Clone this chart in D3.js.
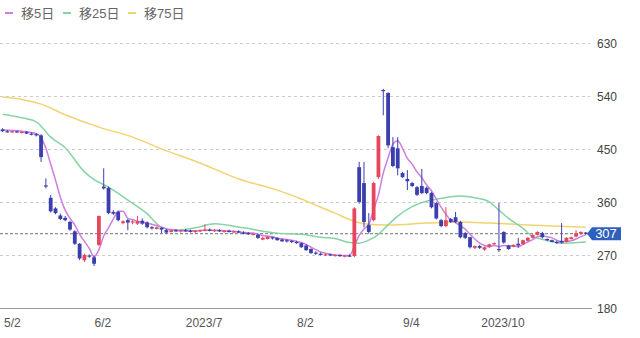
<!DOCTYPE html>
<html>
<head>
<meta charset="utf-8">
<script src="https://cdn.jsdelivr.net/npm/d3@7"></script>
<style>
  body { margin: 0; background: #fff; }
  svg { display: block; font-family: "Liberation Sans", Arial, "Noto Sans CJK JP", sans-serif; }
</style>
</head>
<body>
<div id="chart"></div>
<script>
// daily candles, [open, high, low, close], 2023/5/2 .. late Oct
const candles = [
  [484,486,480,481],[481,483,479,480],[480,482,478,481],[481,482,478,479],
  [479,481,477,480],[480,481,476,477],[477,479,474,475],[476,478,472,474],
  [474,476,429,437],[389,401,384,387],[368,373,343,345],[350,352,340,342],
  [338,341,330,332],[334,337,328,330],[327,329,312,314],[311,313,288,290],
  [290,291,262,265],[262,273,259,271],[270,272,266,268],[267,270,252,256],
  [288,338,286,337],[387,418,382,384],[385,387,340,342],[344,347,339,341],
  [344,346,328,330],[325,330,323,328],[330,332,313,326],[326,330,323,328],
  [324,337,322,328],[329,333,322,324],[326,328,316,318],[318,320,314,316],
  [315,319,314,318],[317,318,308,314],[313,315,307,309],[310,314,309,313],
  [313,315,310,311],[311,314,309,313],[313,315,310,312],[312,314,309,310],
  [310,313,308,312],[312,314,310,313],[313,323,311,314],[314,316,311,312],
  [312,315,310,313],[313,315,310,311],[311,313,309,312],[312,314,309,310],
  [310,312,308,311],[311,313,308,309],[309,311,306,308],[308,310,305,306],
  [306,309,304,307],[305,307,298,300],[297,302,296,300],[298,303,297,302],
  [301,302,297,299],[300,301,295,296],[297,299,293,294],[296,298,292,295],
  [295,296,291,293],[293,295,290,292],[291,292,283,284],[287,289,278,279],
  [281,282,273,274],[275,277,271,273],[273,275,270,271],[271,274,269,272],
  [272,273,269,270],[270,272,268,271],[271,272,268,269],[269,271,267,270],
  [270,272,268,269],[269,352,267,350],[420,429,358,361],[393,429,318,327],
  [322,342,307,310],[330,395,328,393],[403,474,400,473],[551,553,508,549],
  [546,547,452,457],[454,471,420,422],[452,471,406,418],[410,412,402,403],
  [400,415,381,396],[393,395,386,388],[386,388,371,373],[388,417,374,376],
  [385,387,374,376],[376,378,350,352],[359,361,331,333],[330,332,318,320],
  [320,352,318,330],[332,334,325,327],[335,344,325,327],[327,329,299,301],
  [308,310,298,300],[301,302,282,284],[283,287,281,286],[286,288,281,283],
  [280,285,278,284],[285,290,283,289],[290,292,288,291],[281,359,276,279],
  [310,311,290,292],[287,288,280,281],[285,289,284,288],[290,300,283,287],
  [289,297,288,296],[295,301,294,300],[300,306,299,305],[305,311,304,310],
  [308,310,299,301],[298,299,294,296],[296,297,292,293],[293,295,290,291],
  [295,325,290,292],[293,301,292,300],[298,302,297,301],[302,313,301,308],
  [307,311,305,310],[309,310,305,307]
];

// moving averages, [day index, value]
const ma5 = [
  [0,483],[4,481],[7,477],[8,470],[9,452],[10,425],[11,398],[12,369],[13,347],[14,333],
  [15,322],[16,306],[17,294],[18,282],[19,268],[20,280],[21,303],[22,317],[23,332],[24,345],
  [25,345],[26,333],[27,331],[28,328],[29,327],[30,325],[31,323],[32,321],[33,318],[34,315],
  [35,314],[36,313],[37,312],[38,312],[40,312],[42,313],[44,313],[46,312],[48,311],[50,309],
  [52,308],[53,306],[54,304],[55,303],[56,302],[57,299],[58,298],[59,297],[60,296],[61,294],
  [62,292],[63,289],[64,284],[65,280],[66,276],[67,274],[68,272],[69,271],[70,270],[72,270],
  [73,286],[74,304],[75,315],[76,323],[77,348],[78,373],[79,410],[80,436],[81,459],[82,465],
  [83,452],[84,435],[85,425],[86,412],[87,402],[88,390],[89,380],[90,366],[91,352],[92,340],
  [93,330],[94,326],[95,320],[96,315],[97,306],[98,298],[99,291],[100,287],[101,285],[102,287],
  [103,285],[104,287],[105,286],[106,286],[107,285],[108,289],[109,293],[110,297],[111,302],
  [112,303],[113,302],[114,300],[115,296],[116,293],[117,294],[118,295],[119,298],[120,302],[121,305]
];
const ma25 = [
  [0,510],[4,504],[7,497],[10,471],[13,453],[17,412],[19,399],[22,386],[26,364],[30,341],
  [33,318],[36,313],[40,317],[44,324],[50,317],[57,308],[62,306],[66,301],[69,299],[72,292],
  [74,291],[76,296],[78,306],[80,322],[82,337],[85,353],[88,362],[91,367],[95,371],[98,368],
  [101,361],[103,347],[105,333],[108,316],[110,302],[113,296],[116,291],[121,293]
];
const ma75 = [
  [0,539],[4,535],[8,527],[13,509],[20,488],[27,471],[33,451],[41,427],[49,400],[57,381],
  [62,366],[66,352],[69,342],[72,331],[75,324],[80,322],[88,325],[95,327],[101,325],[109,322],[121,318]
];

const yTicks = [180, 270, 360, 450, 540, 630];
const xTickIdx = [0, 20, 41, 62, 84, 103];
const xTickLabels = ["5/2", "6/2", "2023/7", "8/2", "9/4", "2023/10"];
const lastPrice = 307;
const legendNames = ["移5日", "移25日", "移75日"];
const maColors = ["#cf7fe0", "#84d4a4", "#f1d472"];
const upColor = "#e6475d", downColor = "#3b3fae";

const W = 640, H = 338;
const svg = d3.select("#chart").append("svg")
  .attr("width", W).attr("height", H);

const x = d3.scalePoint()
  .domain(d3.range(candles.length))
  .range([2.5, 585.7]);
const y = d3.scaleLinear()
  .domain([180, 630])
  .range([308.5, 43.5]);

// grid
svg.append("g").selectAll("line")
  .data(yTicks.slice(1))
  .enter().append("line")
  .attr("x1", 0).attr("x2", 590)
  .attr("y1", d => y(d)).attr("y2", d => y(d))
  .attr("stroke", "#cccccc")
  .attr("stroke-dasharray", "3,3");

// bottom axis line
svg.append("line")
  .attr("x1", 0).attr("x2", 592)
  .attr("y1", y(180)).attr("y2", y(180))
  .attr("stroke", "#9a9a9a");

// right labels
svg.append("g").selectAll("text")
  .data(yTicks)
  .enter().append("text")
  .attr("x", 597).attr("y", d => y(d))
  .attr("dy", "0.35em")
  .attr("font-size", 12)
  .attr("fill", "#444")
  .text(d => d);

// bottom labels
svg.append("g").selectAll("text")
  .data(xTickIdx)
  .enter().append("text")
  .attr("x", (d, i) => i === 0 ? 4 : x(d) + 4)
  .attr("y", 327)
  .attr("text-anchor", (d, i) => i === 0 ? "start" : "middle")
  .attr("font-size", 12)
  .attr("fill", "#555")
  .text((d, i) => xTickLabels[i]);

// last price line
svg.append("line")
  .attr("x1", 0).attr("x2", 588)
  .attr("y1", y(lastPrice)).attr("y2", y(lastPrice))
  .attr("stroke", "#8d8d8d")
  .attr("stroke-width", 1.2)
  .attr("stroke-dasharray", "3,2");

// moving averages
const line = d3.line()
  .x(d => x(d[0]))
  .y(d => y(d[1]))
  .curve(d3.curveMonotoneX);

[ma75, ma25, ma5].forEach((s, k) => {
  svg.append("path")
    .datum(s)
    .attr("fill", "none")
    .attr("stroke", maColors[2 - k])
    .attr("stroke-width", 1.5)
    .attr("d", line);
});

// candles
const bw = 3.8;
const g = svg.append("g");
g.selectAll("line.wick")
  .data(candles)
  .enter().append("line")
  .attr("class", "wick")
  .attr("x1", (d, i) => x(i)).attr("x2", (d, i) => x(i))
  .attr("y1", d => y(d[1])).attr("y2", d => y(d[2]))
  .attr("stroke", d => d[3] >= d[0] ? upColor : downColor)
  .attr("stroke-width", 1);
g.selectAll("rect")
  .data(candles)
  .enter().append("rect")
  .attr("x", (d, i) => x(i) - bw / 2)
  .attr("y", d => y(Math.max(d[0], d[3])))
  .attr("width", bw)
  .attr("height", d => Math.max(1.2, Math.abs(y(d[0]) - y(d[3]))))
  .attr("fill", d => d[3] >= d[0] ? upColor : downColor);

// price tag
const ty = y(lastPrice);
svg.append("path")
  .attr("d", `M587,${ty} L592,${ty - 6.5} L621,${ty - 6.5} L621,${ty + 6.5} L592,${ty + 6.5} Z`)
  .attr("fill", "#2f5fbd");
svg.append("text")
  .attr("x", 606).attr("y", ty)
  .attr("dy", "0.36em")
  .attr("text-anchor", "middle")
  .attr("font-size", 13)
  .attr("fill", "#fff")
  .text(lastPrice);

// legend
const legX = [5, 63, 128];
legendNames.forEach((name, i) => {
  svg.append("line")
    .attr("x1", legX[i]).attr("x2", legX[i] + 8)
    .attr("y1", 13).attr("y2", 13)
    .attr("stroke", maColors[i])
    .attr("stroke-width", 2);
  svg.append("text")
    .attr("x", legX[i] + 16).attr("y", 13)
    .attr("dy", "0.36em")
    .attr("font-size", 13)
    .attr("fill", "#666")
    .text(name);
});
</script>
</body>
</html>
